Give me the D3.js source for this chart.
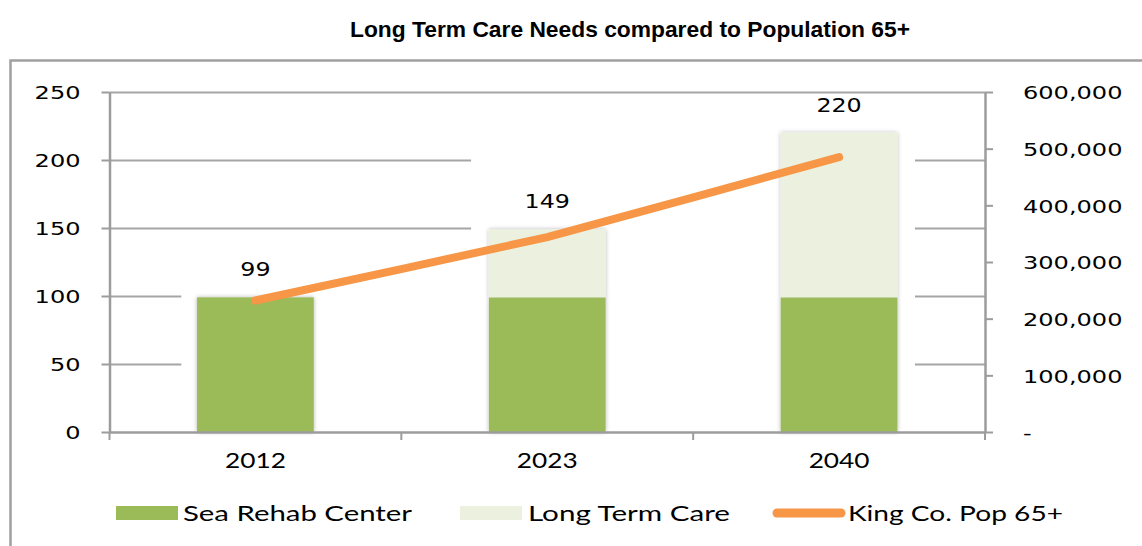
<!DOCTYPE html>
<html>
<head>
<meta charset="utf-8">
<script src="https://cdn.jsdelivr.net/npm/d3@7"></script>
<style>
  html, body { margin: 0; padding: 0; background: #fff; }
  svg { display: block; }
</style>
</head>
<body>
<svg id="chart" width="1142" height="546"></svg>
<script>
// ---- data ----
const years = ["2012", "2023", "2040"];
const seaRehab = [99, 99, 99];
const longTermCare = [0, 50, 121];
const totals = [99, 149, 220];
const pop65 = [232000, 344000, 485000];
const leftTicks = [0, 50, 100, 150, 200, 250];
const rightTicks = [0, 100000, 200000, 300000, 400000, 500000, 600000];
const seriesNames = ["Sea Rehab Center", "Long Term Care", "King Co. Pop 65+"];

// ---- look ----
const GREEN = "#9BBB59", PALE = "#EBF1DE", ORANGE = "#F79646", GRID = "#A5A5A5";
const NUM_FONT = "'DejaVu Sans', Verdana, sans-serif";
const CAT_FONT = "Lato, 'Open Sans', sans-serif";
const STRETCH = 1.3;

const svg = d3.select("#chart");
const W = 1142, H = 546;
const plot = { left: 109.5, right: 985, top: 92, bottom: 432 };

// widen glyphs horizontally
function stretch(sel, k) {
  sel.each(function () {
    const w = this.getComputedTextLength();
    this.setAttribute("textLength", w * k);
    this.setAttribute("lengthAdjust", "spacingAndGlyphs");
  });
}
function fitTo(sel, widthOf) {
  sel.each(function (d, i) {
    this.setAttribute("textLength", widthOf(d, i));
    this.setAttribute("lengthAdjust", "spacingAndGlyphs");
  });
}

// drop shadow for the columns
const defs = svg.append("defs");
const f = defs.append("filter").attr("id", "shadow")
  .attr("x", "-10%").attr("y", "-10%").attr("width", "120%").attr("height", "120%");
f.append("feDropShadow").attr("dx", 0).attr("dy", 0).attr("stdDeviation", 2)
  .attr("flood-color", "#000").attr("flood-opacity", 0.3);

// outer frame
svg.append("rect")
  .attr("x", 10.5).attr("y", 60.5).attr("width", W).attr("height", H)
  .attr("fill", "none").attr("stroke", "#A0A0A0").attr("stroke-width", 2.5);

// title
svg.append("text")
  .attr("x", 630).attr("y", 37)
  .attr("text-anchor", "middle")
  .style("font-family", "'Liberation Sans', Arial, sans-serif")
  .style("font-weight", "bold").style("font-size", "22px").attr("fill", "#000")
  .text("Long Term Care Needs compared to Population 65+")
  .call(fitTo, () => 560);

// ---- scales ----
const x = d3.scaleBand().domain(years)
  .range([plot.left, plot.right]).paddingInner(0.6).paddingOuter(0.3);
const y = d3.scaleLinear().domain([0, 250]).range([plot.bottom, plot.top]);
const y2 = d3.scaleLinear().domain([0, 600000]).range([plot.bottom, plot.top]);

// gridlines
const grid = svg.append("g").attr("transform", `translate(${plot.left},0)`)
  .call(d3.axisLeft(y).tickValues(leftTicks.slice(1)).tickSize(-(plot.right - plot.left)).tickFormat(""));
grid.select(".domain").remove();
grid.selectAll("line").attr("stroke", GRID).attr("stroke-width", 2);

// white panel laid over part of the grid
const px = t => plot.left + t * (plot.right - plot.left);
svg.append("path")
  .attr("d", `M${px(0.082)},${y(125)} H${px(0.413)} V${y(225)} H${px(0.92)} V${y(0) - 1.5} H${px(0.082)} Z`)
  .attr("fill", "#fff");

// ---- columns ----
const bars = svg.append("g").attr("filter", "url(#shadow)");
bars.selectAll("rect.rehab").data(years).join("rect").attr("class", "rehab")
  .attr("x", d => x(d)).attr("width", x.bandwidth())
  .attr("y", (d, i) => y(seaRehab[i])).attr("height", (d, i) => y(0) - y(seaRehab[i]))
  .attr("fill", GREEN);
bars.selectAll("rect.ltc").data(years).join("rect").attr("class", "ltc")
  .attr("x", d => x(d)).attr("width", x.bandwidth())
  .attr("y", (d, i) => y(seaRehab[i] + longTermCare[i]))
  .attr("height", (d, i) => y(seaRehab[i]) - y(seaRehab[i] + longTermCare[i]))
  .attr("fill", PALE);

// ---- left axis ----
const ya = svg.append("g").attr("transform", `translate(${plot.left},0)`)
  .call(d3.axisLeft(y).tickValues(leftTicks).tickSize(8).tickSizeOuter(0).tickPadding(21));
ya.select(".domain").attr("stroke", "#9C9C9C").attr("stroke-width", 2.5);
ya.selectAll("line").attr("stroke", "#9C9C9C").attr("stroke-width", 2);
ya.selectAll("text").style("font-family", NUM_FONT).style("font-size", "18.5px").attr("fill", "#000")
  .attr("dy", "0.36em").call(stretch, STRETCH);

// ---- right axis ----
const yb = svg.append("g").attr("transform", `translate(${plot.right},0)`)
  .call(d3.axisRight(y2).tickValues(rightTicks).tickSize(8).tickSizeOuter(0).tickPadding(30)
    .tickFormat(d => d === 0 ? "-" : d3.format(",")(d)));
yb.select(".domain").attr("stroke", "#9C9C9C").attr("stroke-width", 2.5);
yb.selectAll("line").attr("stroke", "#9C9C9C").attr("stroke-width", 2);
yb.selectAll("text").style("font-family", NUM_FONT).style("font-size", "18.5px").attr("fill", "#000")
  .attr("dy", "0.36em").call(stretch, STRETCH);

// ---- category axis ----
const xa = svg.append("g").attr("transform", `translate(0,${plot.bottom})`)
  .call(d3.axisBottom(x).tickSize(0).tickSizeOuter(0).tickPadding(21));
xa.select(".domain").attr("stroke", "#9C9C9C").attr("stroke-width", 2.5);
xa.selectAll("text").style("font-family", CAT_FONT).style("font-size", "21px").attr("fill", "#000")
  .call(stretch, 1.25);
// tick marks between categories
const bounds = d3.range(years.length + 1).map(i => plot.left + i * x.step());
xa.selectAll("line.sep").data(bounds).join("line").attr("class", "sep")
  .attr("x1", d => d).attr("x2", d => d).attr("y1", 0).attr("y2", 8)
  .attr("stroke", "#9C9C9C").attr("stroke-width", 2);

// ---- total labels ----
svg.append("g").selectAll("text").data(years).join("text")
  .attr("x", d => x(d) + x.bandwidth() / 2)
  .attr("y", (d, i) => y(totals[i]) - 21)
  .attr("text-anchor", "middle")
  .style("font-family", NUM_FONT).style("font-size", "19px").attr("fill", "#000")
  .text((d, i) => totals[i])
  .call(stretch, 1.25);

// ---- population line ----
const line = d3.line()
  .x((d, i) => x(years[i]) + x.bandwidth() / 2)
  .y(d => y2(d))
  .curve(d3.curveCardinal.tension(0.75));
svg.append("path").datum(pop65)
  .attr("d", line)
  .attr("fill", "none").attr("stroke", ORANGE).attr("stroke-width", 8)
  .attr("stroke-linecap", "round").attr("stroke-linejoin", "round");

// ---- legend ----
const lg = svg.append("g");
const legendY = 513;
lg.append("rect").attr("x", 116).attr("y", legendY - 7).attr("width", 62).attr("height", 14).attr("fill", GREEN);
lg.append("rect").attr("x", 460).attr("y", legendY - 7).attr("width", 62).attr("height", 14).attr("fill", PALE);
lg.append("line").attr("x1", 777).attr("x2", 841).attr("y1", legendY).attr("y2", legendY)
  .attr("stroke", ORANGE).attr("stroke-width", 9).attr("stroke-linecap", "round");
const legendX = [183, 528, 848];
const legendW = [229, 202, 215];
lg.selectAll("text").data(seriesNames).join("text")
  .attr("x", (d, i) => legendX[i]).attr("y", legendY + 8)
  .style("font-family", CAT_FONT).style("font-size", "21px").attr("fill", "#000")
  .text(d => d)
  .call(fitTo, (d, i) => legendW[i]);
</script>
</body>
</html>
